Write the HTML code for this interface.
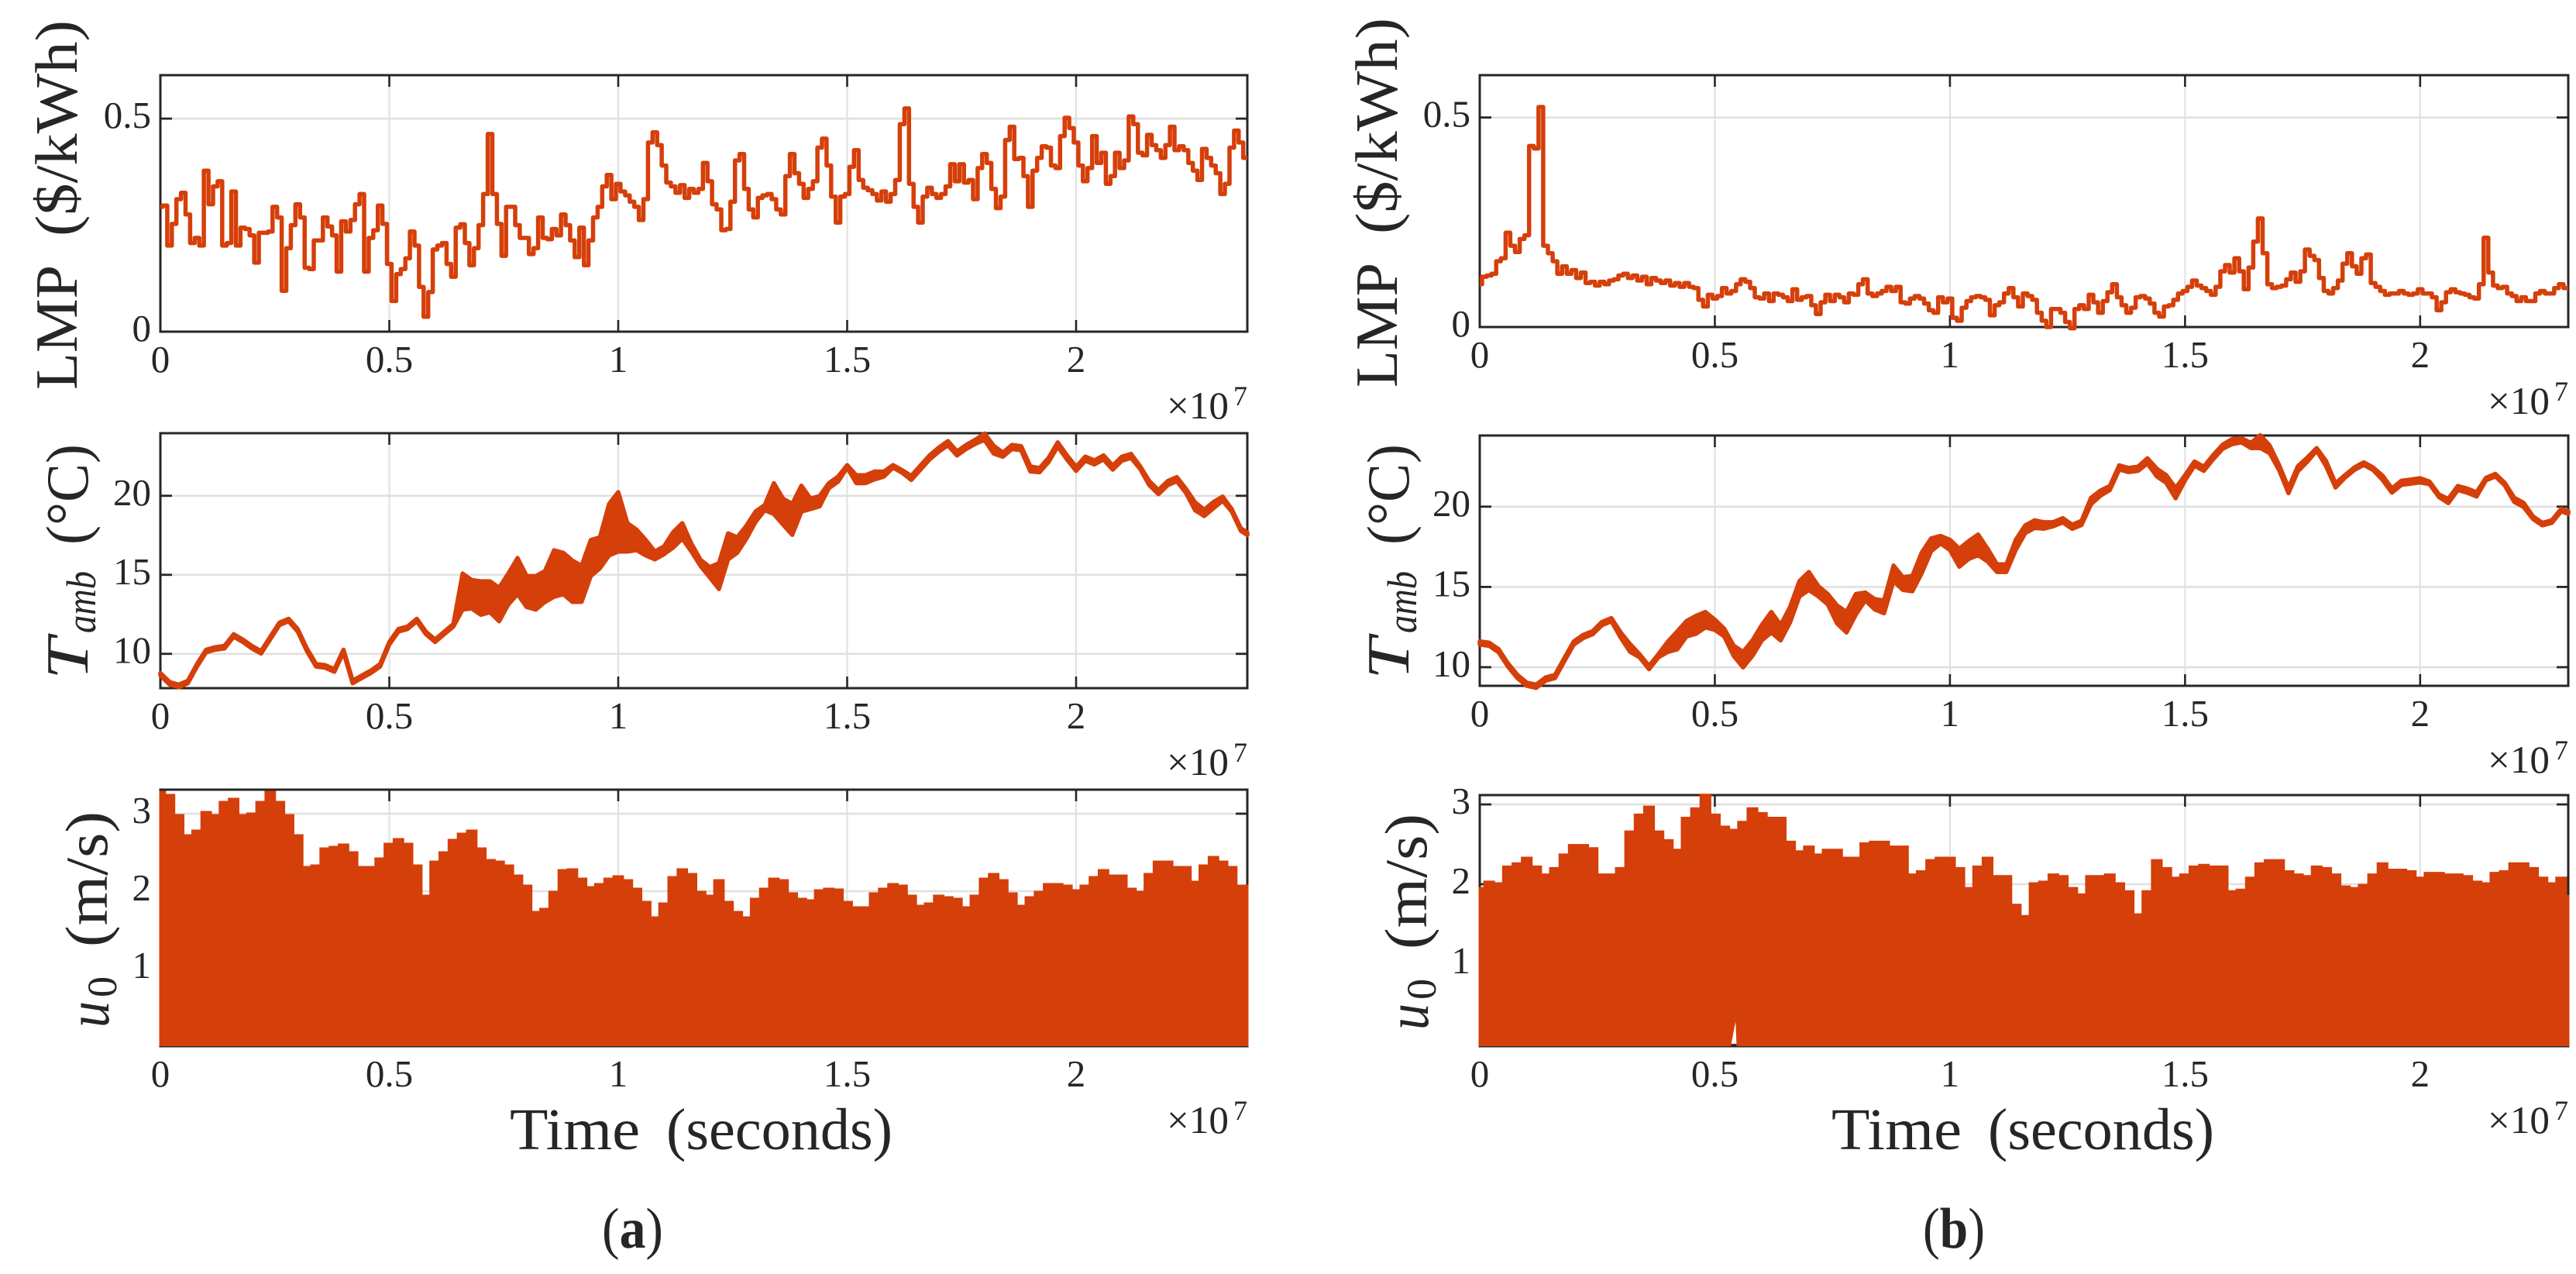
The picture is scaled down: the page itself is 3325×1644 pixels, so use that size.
<!DOCTYPE html>
<html lang="en">
<head>
<meta charset="utf-8">
<title>LMP, ambient temperature and wind speed traces</title>
<style>
html,body{margin:0;padding:0;background:#fff;}
svg{display:block;}
text{font-family:"Liberation Serif",serif;fill:#262626;}
</style>
</head>
<body>
<svg id="chart" xmlns="http://www.w3.org/2000/svg" width="3325" height="1644" viewBox="0 0 3325 1644">
  <rect x="0" y="0" width="3325" height="1644" fill="#ffffff"/>
  <g id="plots"></g>

  <g font-size="77">
    <text transform="translate(99,503) rotate(-90)" textLength="161" lengthAdjust="spacingAndGlyphs">LMP</text>
    <text transform="translate(99,305) rotate(-90)" textLength="279" lengthAdjust="spacingAndGlyphs">($/kWh)</text>
  </g>
  <g>
    <text transform="translate(113,877) rotate(-90)" font-size="77" font-style="italic" textLength="54" lengthAdjust="spacingAndGlyphs">T</text>
    <text transform="translate(123,817) rotate(-90)" font-size="54" font-style="italic" textLength="80" lengthAdjust="spacingAndGlyphs">amb</text>
    <text transform="translate(113,703) rotate(-90)" font-size="77" textLength="130" lengthAdjust="spacingAndGlyphs">(°C)</text>
  </g>
  <g>
    <text transform="translate(140,1326) rotate(-90)" font-size="77" font-style="italic" textLength="34" lengthAdjust="spacingAndGlyphs">u</text>
    <text transform="translate(150,1287) rotate(-90)" font-size="54" textLength="27" lengthAdjust="spacingAndGlyphs">0</text>
    <text transform="translate(138,1222) rotate(-90)" font-size="77" textLength="175" lengthAdjust="spacingAndGlyphs">(m/s)</text>
  </g>
  <g font-size="76">
    <text x="658" y="1483" textLength="168" lengthAdjust="spacingAndGlyphs">Time</text>
    <text x="860" y="1483" textLength="292" lengthAdjust="spacingAndGlyphs">(seconds)</text>
  </g>
  <text x="777" y="1610" font-size="74" textLength="79" lengthAdjust="spacingAndGlyphs">(<tspan font-weight="bold">a</tspan>)</text>

  <g font-size="77">
    <text transform="translate(1803,500) rotate(-90)" textLength="161" lengthAdjust="spacingAndGlyphs">LMP</text>
    <text transform="translate(1803,302) rotate(-90)" textLength="279" lengthAdjust="spacingAndGlyphs">($/kWh)</text>
  </g>
  <g>
    <text transform="translate(1818,877) rotate(-90)" font-size="77" font-style="italic" textLength="54" lengthAdjust="spacingAndGlyphs">T</text>
    <text transform="translate(1828,817) rotate(-90)" font-size="54" font-style="italic" textLength="80" lengthAdjust="spacingAndGlyphs">amb</text>
    <text transform="translate(1818,703) rotate(-90)" font-size="77" textLength="130" lengthAdjust="spacingAndGlyphs">(°C)</text>
  </g>
  <g>
    <text transform="translate(1843,1329) rotate(-90)" font-size="77" font-style="italic" textLength="34" lengthAdjust="spacingAndGlyphs">u</text>
    <text transform="translate(1853,1290) rotate(-90)" font-size="54" textLength="27" lengthAdjust="spacingAndGlyphs">0</text>
    <text transform="translate(1841,1225) rotate(-90)" font-size="77" textLength="175" lengthAdjust="spacingAndGlyphs">(m/s)</text>
  </g>
  <g font-size="76">
    <text x="2364" y="1483" textLength="168" lengthAdjust="spacingAndGlyphs">Time</text>
    <text x="2566" y="1483" textLength="292" lengthAdjust="spacingAndGlyphs">(seconds)</text>
  </g>
  <text x="2482" y="1610" font-size="74" textLength="80" lengthAdjust="spacingAndGlyphs">(<tspan font-weight="bold">b</tspan>)</text>
</svg>
<script>
// Values. Time is in units of 1e7 seconds.
const xTicks = [0, 0.5, 1, 1.5, 2];
const xTickLabels = ['0', '0.5', '1', '1.5', '2'];
const lmpTicks = [0, 0.5];
const lmpTickLabels = ['0', '0.5'];
const tambTicks = [10, 15, 20];
const tambTickLabels = ['10', '15', '20'];
const u0Ticks = [1, 2, 3];
const u0TickLabels = ['1', '2', '3'];

const lmpStep = 0.01;
const slowStep = 0.02;

const lmpA = [.293,.296,.202,.253,.311,.326,.275,.208,.22,.202,.378,.299,.341,.353,.202,.208,.329,.202,.244,.241,
.226,.162,.232,.232,.235,.293,.268,.096,.196,.25,.299,.268,.15,.147,.214,.214,.268,.247,.226,.141,
.259,.235,.262,.299,.323,.141,.22,.238,.296,.253,.159,.072,.135,.147,.172,.235,.202,.105,.035,.093,
.193,.202,.208,.159,.129,.244,.252,.208,.156,.196,.25,.323,.464,.323,.253,.178,.293,.293,.25,.22,
.22,.182,.196,.268,.22,.217,.241,.226,.275,.25,.214,.175,.244,.156,.214,.268,.293,.341,.368,.311,
.347,.329,.32,.305,.293,.262,.311,.444,.468,.438,.39,.35,.341,.326,.344,.314,.335,.326,.335,.396,
.353,.299,.287,.238,.241,.305,.402,.417,.335,.287,.268,.314,.32,.323,.311,.287,.275,.365,.417,.372,
.347,.314,.335,.353,.432,.453,.39,.317,.256,.317,.323,.387,.426,.356,.338,.332,.323,.308,.329,.305,
.323,.356,.487,.524,.347,.293,.256,.317,.338,.323,.314,.323,.341,.393,.353,.393,.35,.356,.311,.384,
.417,.396,.335,.29,.317,.45,.481,.405,.408,.365,.293,.378,.408,.435,.432,.39,.384,.459,.502,.478,
.444,.39,.353,.384,.459,.396,.42,.347,.365,.42,.384,.402,.505,.487,.42,.414,.462,.438,.426,.408,
.438,.481,.426,.435,.426,.396,.378,.356,.429,.408,.39,.372,.323,.347,.432,.472,.444,.408];

const lmpB = [.102,.12,.123,.127,.157,.164,.225,.194,.179,.21,.219,.432,.426,.525,.194,.176,.157,.127,.145,.127,
.136,.117,.13,.105,.108,.099,.108,.102,.111,.114,.123,.127,.117,.123,.111,.12,.102,.117,.111,.105,
.111,.099,.105,.096,.105,.096,.093,.065,.049,.077,.068,.074,.093,.08,.086,.102,.114,.108,.093,.071,
.068,.08,.062,.08,.077,.071,.062,.09,.065,.071,.074,.052,.031,.059,.077,.062,.077,.071,.059,.08,
.077,.102,.114,.08,.074,.08,.086,.096,.086,.096,.059,.056,.068,.074,.068,.056,.04,.034,.071,.059,
.068,.022,.015,.046,.062,.071,.074,.071,.065,.028,.052,.059,.08,.093,.071,.049,.08,.074,.065,.034,
.015,0,.043,.043,.034,.012,-.003,.043,.052,.043,.077,.059,.034,.062,.083,.102,.071,.052,.034,.046,
.071,.074,.068,.056,.034,.025,.049,.052,.065,.08,.086,.096,.111,.099,.093,.086,.077,.096,.133,.148,
.13,.164,.133,.09,.142,.204,.259,.176,.102,.093,.096,.099,.114,.13,.108,.133,.185,.17,.16,.117,
.086,.08,.093,.111,.151,.176,.145,.127,.164,.173,.105,.096,.086,.077,.08,.08,.086,.08,.077,.08,
.09,.08,.08,.071,.04,.059,.083,.09,.083,.08,.077,.071,.068,.102,.213,.13,.099,.093,.096,.08,
.074,.062,.071,.062,.062,.08,.086,.08,.08,.093,.102,.093];

const tambA = [8.71,8.14,7.97,8.22,9.28,10.18,10.34,10.42,11.16,10.83,10.42,10.1,11.0,11.9,12.14,11.49,10.26,9.28,9.2,8.95,
10.18,8.22,8.55,8.87,9.28,10.67,11.49,11.65,12.14,11.32,10.83,11.32,11.81,13.94,13.77,13.53,13.61,13.12,14.1,14.92,
13.94,13.86,14.26,15.08,15.08,14.59,14.43,16.06,16.39,17.86,18.35,17.37,17.21,16.72,16.23,16.55,17.21,17.78,16.72,15.74,
15.16,14.92,16.8,16.88,17.7,18.68,19.25,19.82,19.0,18.51,19.82,19.49,19.66,20.64,21.05,21.86,21.05,21.05,21.29,21.37,
21.86,21.54,21.13,21.78,22.43,22.92,23.33,22.68,23.09,23.42,23.74,22.92,22.6,23.09,23.01,21.7,21.62,22.27,23.25,22.43,
21.7,22.35,22.11,22.43,21.78,22.35,22.52,21.78,20.8,20.23,20.8,21.05,20.31,19.33,18.92,19.41,19.82,19.08,17.86,17.6];
const tambSpreadA = [.08,.08,.08,.08,.08,.08,.08,.08,.08,.08,.08,.08,.08,.08,.08,.08,.08,.08,.08,.08,
.08,.08,.08,.08,.08,.08,.08,.08,.08,.08,.08,.08,.08,1.14,.9,1.06,.98,1.06,.98,1.14,
.98,1.06,.98,1.47,1.31,1.31,1.14,1.14,.98,1.63,1.88,.9,.65,.49,.25,.25,.49,.49,.25,.2,
.33,.82,.82,.49,.41,.33,.16,.98,.82,.98,.82,.33,.33,.16,.16,.08,.25,.25,.25,.16,
.08,.08,.13,.13,.13,.13,.13,.13,.13,.13,.2,.25,.13,.13,.13,.16,.13,.13,.13,.13,
.13,.13,.13,.13,.13,.13,.13,.08,.13,.13,.13,.13,.13,.25,.2,.2,.13,.08,.08,.08];

const tambB = [11.51,11.43,11.03,10.14,9.42,8.94,8.81,9.26,9.42,10.47,11.51,11.91,12.15,12.72,12.96,11.99,11.19,10.71,9.98,10.71,
11.27,11.67,12.4,12.64,12.96,12.64,12.15,11.03,10.47,11.19,12.15,12.8,12.15,13.28,14.89,15.37,14.73,14.24,13.28,12.8,
13.92,14.41,13.92,13.76,15.85,15.21,15.21,16.5,17.62,17.94,17.62,16.82,17.3,17.62,16.98,16.17,16.17,17.62,18.59,18.91,
18.83,18.91,19.15,18.75,18.99,20.35,20.84,21.16,22.44,22.28,22.36,22.85,22.12,21.72,20.84,21.8,22.68,22.36,23.09,23.73,
24.05,24.13,23.81,24.05,23.57,22.44,21.0,22.36,22.93,23.57,22.68,21.32,21.88,22.36,22.68,22.36,21.8,21.0,21.48,21.56,
21.64,21.48,20.68,20.35,21.16,21.0,20.76,21.72,21.96,21.4,20.43,20.11,19.31,18.91,19.07,19.79,19.63];
const tambSpreadB = [.1,.1,.1,.1,.1,.1,.1,.1,.1,.1,.1,.1,.1,.1,.1,.16,.24,.1,.1,.1,
.32,.56,.48,.56,.48,.32,.24,.32,.48,.48,.48,.64,.48,.48,.48,.56,.32,.32,.56,.64,
.64,.24,.32,.4,.48,.4,.48,.64,.4,.24,.32,.56,.56,.64,.4,.24,.24,.32,.24,.24,
.2,.13,.13,.13,.13,.2,.16,.13,.13,.13,.13,.16,.24,.24,.32,.16,.13,.13,.13,.13,
.16,.13,.16,.4,.24,.16,.16,.16,.13,.08,.16,.13,.08,.08,.08,.08,.13,.13,.13,.13,
.13,.08,.08,.13,.13,.13,.13,.08,.08,.08,.13,.13,.08,.08,.08,.08,.08];

const u0A = [3.28,3.24,2.98,2.72,2.78,3.02,2.98,3.15,3.19,2.98,3.0,3.15,3.28,3.15,2.98,2.72,2.31,2.33,2.55,2.57,
2.6,2.5,2.31,2.31,2.42,2.61,2.67,2.61,2.33,1.94,2.38,2.5,2.66,2.74,2.78,2.55,2.4,2.38,2.33,2.2,
2.07,1.73,1.77,1.99,2.27,2.28,2.16,2.05,2.09,2.16,2.19,2.14,2.03,1.86,1.66,1.84,2.18,2.28,2.22,1.99,
1.94,2.14,1.86,1.73,1.66,1.9,2.03,2.16,2.14,1.97,1.9,1.88,2.01,2.03,2.02,1.86,1.79,1.79,1.97,2.03,
2.09,2.07,1.94,1.81,1.84,1.94,1.92,1.9,1.79,1.94,2.16,2.22,2.14,1.97,1.81,1.92,1.99,2.09,2.09,2.07,
2.01,2.07,2.18,2.27,2.2,2.2,2.03,1.99,2.22,2.38,2.38,2.31,2.31,2.12,2.33,2.44,2.38,2.31,2.07,2.07];

const u0B = [1.95,2.03,2.01,2.22,2.26,2.33,2.22,2.12,2.2,2.37,2.49,2.49,2.45,2.12,2.12,2.2,2.66,2.87,2.97,2.66,
2.55,2.43,2.83,2.95,3.12,2.87,2.72,2.68,2.78,2.95,2.89,2.83,2.83,2.53,2.41,2.47,2.37,2.43,2.43,2.33,
2.33,2.51,2.53,2.53,2.47,2.47,2.12,2.16,2.3,2.33,2.33,2.2,1.95,2.22,2.33,2.1,2.1,1.74,1.6,2.01,
2.03,2.12,2.1,1.95,1.87,2.1,2.1,2.12,2.01,1.91,1.62,1.91,2.3,2.2,2.08,2.12,2.22,2.24,2.22,2.22,
1.91,1.93,2.08,2.26,2.3,2.3,2.16,2.12,2.1,2.22,2.2,2.12,1.97,1.95,1.99,2.12,2.26,2.18,2.18,2.16,
2.08,2.14,2.14,2.12,2.12,2.1,2.03,2.01,2.14,2.16,2.26,2.26,2.2,2.08,2.01,2.08,1.85];

// Notch in the wind-speed fill of figure (b), near the lower axis.
const u0GapTimes = [0.535, 0.544, 0.546, 0.535];
const u0GapValues = [0, 0.28, 0, 0];

const INK = '#262626', GRID = '#e0e0e0', TRACE = '#d53f0a';
const NS = 'http://www.w3.org/2000/svg';
const plots = document.getElementById('plots');

function mk(parent, tag, attrs) {
  const node = document.createElementNS(NS, tag);
  for (const k in attrs) node.setAttribute(k, attrs[k]);
  parent.appendChild(node);
  return node;
}

function drawAxes(root, p, id) {
  const sx = t => p.left + (t / p.xMax) * (p.right - p.left);
  const sy = v => p.bottom - ((v - p.yMin) / (p.yMax - p.yMin)) * (p.bottom - p.top);

  p.yTicks.forEach((v, i) => {
    const grid = mk(root, 'line', {x1: p.left, x2: p.right, y1: sy(v), y2: sy(v), stroke: GRID, 'stroke-width': 2.6});
    
    
  });
  xTicks.forEach(t => {
    const grid = mk(root, 'line', {x1: sx(t), x2: sx(t), y1: p.top, y2: p.bottom, stroke: GRID, 'stroke-width': 2});
    
    
  });

  const box = mk(root, 'rect', {x: p.left, y: p.top, width: p.right - p.left, height: p.bottom - p.top, fill: 'none', stroke: INK, 'stroke-width': 3});
  
  

  const tickLen = 15;
  xTicks.forEach((t, i) => {
    const low = mk(root, 'line', {x1: sx(t), x2: sx(t), y1: p.bottom, y2: p.bottom - tickLen, stroke: INK, 'stroke-width': 2.6});
    
    
    const high = mk(root, 'line', {x1: sx(t), x2: sx(t), y1: p.top, y2: p.top + tickLen, stroke: INK, 'stroke-width': 2.6});
    
    
    const lab = mk(root, 'text', {x: sx(t), y: p.bottom + 52, 'font-size': 49, 'text-anchor': 'middle'});
    lab.textContent = xTickLabels[i];
    
    
  });
  p.yTicks.forEach((v, i) => {
    const low = mk(root, 'line', {x1: p.left, x2: p.left + tickLen, y1: sy(v), y2: sy(v), stroke: INK, 'stroke-width': 2.8});
    
    
    const high = mk(root, 'line', {x1: p.right, x2: p.right - tickLen, y1: sy(v), y2: sy(v), stroke: INK, 'stroke-width': 2.8});
    
    
    const lab = mk(root, 'text', {x: p.left - 12, y: sy(v) + 12, 'font-size': 49, 'text-anchor': 'end'});
    lab.textContent = p.yTickLabels[i];
    
    
  });

  const mult = mk(root, 'text', {x: p.right - 104, y: p.bottom + 112, 'font-size': 50, textLength: 80, lengthAdjust: 'spacingAndGlyphs'});
  mult.textContent = '×10';
  
  
  const exp = mk(root, 'text', {x: p.right - 18, y: p.bottom + 95, 'font-size': 36});
  exp.textContent = '7';
  
  
  return {sx, sy};
}

function timeAt(i, dt, xMax) { return Math.min(i * dt, xMax); }

// Staircase through the values: each sample holds for one time step, centred on its time.
function stairPoints(values, dt, a, p) {
  const out = [];
  values.forEach((v, i) => {
    const t0 = Math.max(0, (i - 0.5) * dt);
    const t1 = Math.min(p.xMax, (i + 0.5) * dt);
    out.push(a.sx(t0).toFixed(1) + ',' + a.sy(v).toFixed(1));
    out.push(a.sx(t1).toFixed(1) + ',' + a.sy(v).toFixed(1));
  });
  return out;
}

function drawLine(root, p, id, values, dt) {
  const a = drawAxes(root, p, id);
  const line = mk(root, 'polyline', {points: stairPoints(values, dt, a, p).join(' '), fill: 'none', stroke: TRACE, 'stroke-width': 5.5, 'stroke-linejoin': 'round'});
  
  
}

function drawBand(root, p, id, values, spread, dt) {
  const a = drawAxes(root, p, id);
  const up = values.map((v, i) => a.sx(timeAt(i, dt, p.xMax)).toFixed(1) + ',' + a.sy(v + spread[i]).toFixed(1));
  const down = values.map((v, i) => a.sx(timeAt(i, dt, p.xMax)).toFixed(1) + ',' + a.sy(v - spread[i]).toFixed(1)).reverse();
  const band = mk(root, 'polygon', {points: up.concat(down).join(' '), fill: TRACE, stroke: TRACE, 'stroke-width': 5.5, 'stroke-linejoin': 'round'});
  
  
}

function drawFill(root, p, id, values, dt) {
  const a = drawAxes(root, p, id);
  const base = p.bottom - 1.5;
  const pts = stairPoints(values, dt, a, p);
  pts.unshift(p.left.toFixed(1) + ',' + base);
  pts.push(p.right.toFixed(1) + ',' + base);
  const area = mk(root, 'polygon', {points: pts.join(' '), fill: TRACE, stroke: TRACE, 'stroke-width': 3, 'stroke-linejoin': 'miter'});
  
  
  return a;
}

const panels = {
  lmpA:  {left: 207,  right: 1610, top: 97,  bottom: 428, xMax: 2.374, yMin: 0,     yMax: 0.602, yTicks: lmpTicks,  yTickLabels: lmpTickLabels},
  tambA: {left: 207,  right: 1610, top: 559, bottom: 888, xMax: 2.374, yMin: 7.83,  yMax: 23.96, yTicks: tambTicks, yTickLabels: tambTickLabels},
  u0A:   {left: 207,  right: 1610, top: 1019,bottom: 1350,xMax: 2.374, yMin: 0,     yMax: 3.31,  yTicks: u0Ticks,   yTickLabels: u0TickLabels},
  lmpB:  {left: 1910, right: 3315, top: 97,  bottom: 422, xMax: 2.315, yMin: 0,     yMax: 0.601, yTicks: lmpTicks,  yTickLabels: lmpTickLabels},
  tambB: {left: 1910, right: 3315, top: 562, bottom: 885, xMax: 2.315, yMin: 8.84,  yMax: 24.43, yTicks: tambTicks, yTickLabels: tambTickLabels},
  u0B:   {left: 1910, right: 3315, top: 1026,bottom: 1350,xMax: 2.315, yMin: -0.03, yMax: 3.117, yTicks: u0Ticks,   yTickLabels: u0TickLabels}
};

function group(id) {
  const g = mk(plots, 'g', {});
  
  
  return g;
}

drawLine(group('lmp-a'), panels.lmpA, 'lmp-a', lmpA, lmpStep);
drawBand(group('tamb-a'), panels.tambA, 'tamb-a', tambA, tambSpreadA, slowStep);
drawFill(group('u0-a'), panels.u0A, 'u0-a', u0A, slowStep);
drawLine(group('lmp-b'), panels.lmpB, 'lmp-b', lmpB, lmpStep);
drawBand(group('tamb-b'), panels.tambB, 'tamb-b', tambB, tambSpreadB, slowStep);
const u0BGroup = group('u0-b');
const u0BScale = drawFill(u0BGroup, panels.u0B, 'u0-b', u0B, slowStep);
const gapPts = u0GapTimes.map((t, i) => u0BScale.sx(t).toFixed(1) + ',' + u0BScale.sy(u0GapValues[i]).toFixed(1)).join(' ');
const gap = mk(u0BGroup, 'polygon', {points: gapPts, fill: '#ffffff'});


const gapAxis = mk(u0BGroup, 'line', {x1: u0BScale.sx(u0GapTimes[0]), x2: u0BScale.sx(u0GapTimes[2]), y1: panels.u0B.bottom - 1, y2: panels.u0B.bottom - 1, stroke: INK, 'stroke-width': 3});


</script>
</body>
</html>
